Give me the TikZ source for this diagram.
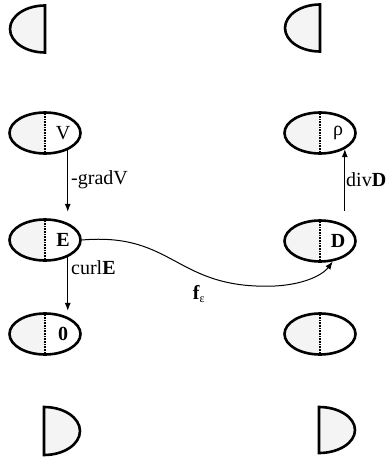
\documentclass[tikz,border=0pt]{standalone}
\usepackage{fontspec}
\setmainfont{Liberation Serif}
\usetikzlibrary{shapes.geometric,arrows.meta,calc}
\begin{document}
\begin{tikzpicture}[x=1pt,y=-1pt,
  shade/.style={gray!9},
  cell/.style={ellipse, draw, line width=2.6pt, minimum width=71pt, minimum height=41pt, inner sep=0pt,
    path picture={\fill[shade] (path picture bounding box.south west) rectangle (path picture bounding box.north);
      \draw[line width=2pt, dash pattern=on 1pt off 0.6pt] (path picture bounding box.south) -- (path picture bounding box.north);}},
  half/.style={draw, line width=2.6pt, fill=gray!9},
  lab/.style={font=\fontsize{20}{22}\selectfont, inner sep=1pt},
  arr/.style={-{Latex[length=8pt,width=6pt]}, line width=1pt}
]
\useasboundingbox (0,0) rectangle (386,460);
% half shapes
\draw[half] (45,5.5) arc[start angle=90, end angle=270, x radius=35pt, y radius=23.5pt] -- cycle;
\draw[half] (320,4.5) arc[start angle=90, end angle=270, x radius=35pt, y radius=23.5pt] -- cycle;
\draw[half] (44,407) arc[start angle=90, end angle=-90, x radius=36pt, y radius=24pt] -- cycle;
\draw[half] (319,407) arc[start angle=90, end angle=-90, x radius=36pt, y radius=23pt] -- cycle;
% ellipses
\node[cell] (V) at (45,133) {};
\node[cell] (E) at (45,240) {};
\node[cell] (Z) at (45,334) {};
\node[cell] (R) at (320,133) {};
\node[cell] (D) at (320,241) {};
\node[cell] (Z2) at (320,334) {};
% texts
\node[lab] (tV) at (63,133) {V};
\node[lab] (tE) at (63,240) {\textbf{E}};
\node[lab] (tZ) at (63,334) {\textbf{0}};
\node[lab] (tR) at (338,133) {ρ};
\node[lab] (tD) at (338,241) {\textbf{D}};
% arrows
\draw[arr, shorten >=11pt] (V.-37) -- (V.-37 |- E.37);
\draw[arr, shorten >=6pt] (E.-37) -- (E.-37 |- Z.37);
\draw[arr, shorten <=14pt] (D.33) -- (D.33 |- R.-33);
\draw[arr] (E.east) .. controls (175,232) and (175,290) .. (275,286)
  .. controls (310,284) and (325,272) .. (D.-58);
% labels
\node[lab, anchor=west] (lg) at (70,180) {-gradV};
\node[lab, anchor=west] (lc) at (70,268) {curl\textbf{E}};
\node[lab, anchor=west] (ld) at (345,180) {div\textbf{D}};
\node[lab] (lf) at (199,294) {\textbf{f}\textsubscript{\fontsize{12}{13}\selectfont ε}};
\end{tikzpicture}
\end{document}
